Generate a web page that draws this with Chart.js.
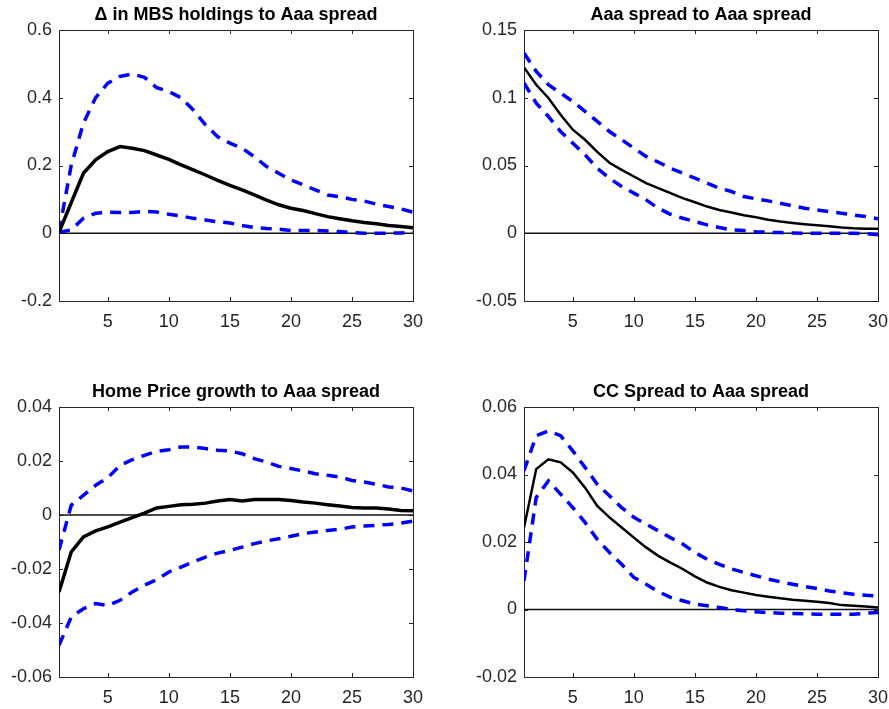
<!DOCTYPE html>
<html lang="en">
<head>
    <meta charset="UTF-8">
    <title>Impulse responses to Aaa spread</title>
    <style>
        body {
            margin: 0;
            padding: 0;
            background: #fff;
            overflow: hidden;
        }

        .panel {
            position: absolute;
        }
    </style>
</head>
<body>
    <div class="panel" id="p1"><canvas id="c1"></canvas></div>
    <div class="panel" id="p2"><canvas id="c2"></canvas></div>
    <div class="panel" id="p3"><canvas id="c3"></canvas></div>
    <div class="panel" id="p4"><canvas id="c4"></canvas></div>

    <script src="https://cdn.jsdelivr.net/npm/chart.js"></script>
    <script>
        // Horizons and x tick labels (shared)
        const horizons = [1, 2, 3, 4, 5, 6, 7, 8, 9, 10, 11, 12, 13, 14, 15, 16, 17, 18, 19, 20, 21, 22, 23, 24, 25, 26, 27, 28, 29, 30];
        const xTicks = [5, 10, 15, 20, 25, 30];

        // Panel 1: change in MBS holdings
        const mbsTitle = 'Δ in MBS holdings to Aaa spread';
        const mbsYTicks = [-0.2, 0, 0.2, 0.4, 0.6];
        const mbsMedian = [0.003, 0.09, 0.177, 0.217, 0.241, 0.256, 0.251, 0.244, 0.231, 0.218, 0.202, 0.187, 0.172, 0.156, 0.141, 0.128, 0.113, 0.098, 0.084, 0.074, 0.067, 0.058, 0.049, 0.043, 0.037, 0.032, 0.028, 0.023, 0.020, 0.016];
        const mbsUpper = [0.005, 0.20, 0.325, 0.40, 0.443, 0.463, 0.47, 0.46, 0.43, 0.418, 0.40, 0.364, 0.32, 0.285, 0.266, 0.251, 0.226, 0.197, 0.177, 0.157, 0.143, 0.128, 0.113, 0.108, 0.10, 0.095, 0.086, 0.079, 0.072, 0.062];
        const mbsLower = [0.003, 0.01, 0.044, 0.059, 0.062, 0.061, 0.061, 0.065, 0.063, 0.056, 0.051, 0.044, 0.039, 0.034, 0.030, 0.023, 0.017, 0.014, 0.012, 0.008, 0.008, 0.008, 0.007, 0.005, 0.002, 0.0, 0.0, 0.0, 0.001, 0.003];

        // Panel 2: Aaa spread
        const aaaTitle = 'Aaa spread to Aaa spread';
        const aaaYTicks = [-0.05, 0, 0.05, 0.1, 0.15];
        const aaaMedian = [0.1224, 0.1096, 0.0998, 0.0874, 0.0764, 0.069, 0.060, 0.052, 0.0468, 0.0419, 0.037, 0.0333, 0.0296, 0.0259, 0.0229, 0.0197, 0.0172, 0.0153, 0.0133, 0.0118, 0.0099, 0.0086, 0.0076, 0.0067, 0.0059, 0.0052, 0.0042, 0.0037, 0.0034, 0.0034];
        const aaaUpper = [0.133, 0.1195, 0.1096, 0.1034, 0.0973, 0.0899, 0.0825, 0.0751, 0.069, 0.0628, 0.0567, 0.0525, 0.048, 0.0443, 0.0406, 0.037, 0.0333, 0.0308, 0.0271, 0.0254, 0.0239, 0.0222, 0.0202, 0.0185, 0.0172, 0.016, 0.0148, 0.0135, 0.0123, 0.0106];
        const aaaLower = [0.111, 0.096, 0.0862, 0.0751, 0.0665, 0.0579, 0.048, 0.0406, 0.0345, 0.0296, 0.0246, 0.0185, 0.014, 0.0111, 0.0086, 0.0062, 0.0042, 0.0025, 0.002, 0.0012, 0.0007, 0.0005, 0.0002, 0.0, 0.0, 0.0, 0.0, 0.0, -0.0002, -0.0012];

        // Panel 3: home price growth
        const hpTitle = 'Home Price growth to Aaa spread';
        const hpYTicks = [-0.06, -0.04, -0.02, 0, 0.02, 0.04];
        const hpMedian = [-0.0285, -0.0137, -0.0081, -0.0059, -0.0044, -0.0026, -0.001, 0.0007, 0.0026, 0.0032, 0.0038, 0.004, 0.0044, 0.0052, 0.0057, 0.0052, 0.0057, 0.0057, 0.0057, 0.0054, 0.0048, 0.0044, 0.0038, 0.0033, 0.0028, 0.0026, 0.0026, 0.0022, 0.0017, 0.0016];
        const hpUpper = [-0.013, 0.0036, 0.0073, 0.011, 0.0138, 0.0184, 0.0205, 0.0221, 0.0236, 0.0242, 0.0252, 0.0252, 0.0246, 0.024, 0.0237, 0.0227, 0.0209, 0.0196, 0.018, 0.0172, 0.0163, 0.0153, 0.0147, 0.0141, 0.0128, 0.0122, 0.0114, 0.0104, 0.010, 0.0089];
        const hpLower = [-0.0483, -0.0378, -0.0347, -0.0328, -0.0335, -0.0316, -0.0285, -0.026, -0.024, -0.0211, -0.0193, -0.0174, -0.0156, -0.0141, -0.0131, -0.0119, -0.0106, -0.0096, -0.0088, -0.0079, -0.0069, -0.0063, -0.0057, -0.0053, -0.0044, -0.0041, -0.0038, -0.0035, -0.003, -0.0023];

        // Panel 4: CC spread
        const ccTitle = 'CC Spread to Aaa spread';
        const ccYTicks = [-0.02, 0, 0.02, 0.04, 0.06];
        const ccMedian = [0.0243, 0.0416, 0.0445, 0.0436, 0.0406, 0.0361, 0.0307, 0.0273, 0.0243, 0.0213, 0.0184, 0.0159, 0.0139, 0.012, 0.0098, 0.008, 0.0067, 0.0057, 0.005, 0.0043, 0.0038, 0.0033, 0.0029, 0.0026, 0.0023, 0.0019, 0.0013, 0.0011, 0.0009, 0.0006];
        const ccUpper = [0.0411, 0.0515, 0.0529, 0.0515, 0.047, 0.0421, 0.0371, 0.0337, 0.0302, 0.0273, 0.0253, 0.0233, 0.0213, 0.0194, 0.0169, 0.0149, 0.0134, 0.012, 0.011, 0.010, 0.009, 0.0082, 0.0075, 0.0068, 0.0062, 0.0055, 0.005, 0.0045, 0.0042, 0.004];
        const ccLower = [0.0085, 0.0332, 0.0381, 0.0342, 0.0302, 0.0258, 0.0208, 0.0169, 0.0134, 0.0095, 0.0075, 0.0053, 0.0036, 0.0026, 0.0016, 0.0011, 0.0006, 0.0, -0.0004, -0.0007, -0.0009, -0.0011, -0.0012, -0.0013, -0.0014, -0.0014, -0.0014, -0.0014, -0.0011, -0.0009];

        const axisColor = '#262626';
        const fontFamily = "'Liberation Sans', Arial, Helvetica, sans-serif";

        // Box round the plot area with short inward ticks on all four sides
        const boxPlugin = {
            id: 'matlabBox',
            beforeDatasetsDraw(chart) {
                const { ctx, chartArea: a, scales: { x, y } } = chart;
                const len = 4;
                ctx.save();
                ctx.strokeStyle = axisColor;
                ctx.lineWidth = 1;
                ctx.strokeRect(Math.round(a.left) + 0.5, Math.round(a.top) + 0.5,
                    Math.round(a.right - a.left), Math.round(a.bottom - a.top));
                ctx.beginPath();
                x.ticks.forEach(t => {
                    const px = Math.round(x.getPixelForValue(t.value)) + 0.5;
                    ctx.moveTo(px, a.bottom); ctx.lineTo(px, a.bottom - len);
                    ctx.moveTo(px, a.top); ctx.lineTo(px, a.top + len);
                });
                y.ticks.forEach(t => {
                    const py = Math.round(y.getPixelForValue(t.value)) + 0.5;
                    ctx.moveTo(a.left, py); ctx.lineTo(a.left + len, py);
                    ctx.moveTo(a.right, py); ctx.lineTo(a.right - len, py);
                });
                ctx.stroke();
                ctx.restore();
            }
        };

        function toPoints(values) {
            return values.map((v, i) => ({ x: horizons[i], y: v }));
        }

        function makePanel(canvasId, pos, title, yTicks, median, upper, lower, medianWidth) {
            const wrap = document.getElementById(canvasId).parentElement;
            wrap.style.left = pos.left + 'px';
            wrap.style.top = pos.top + 'px';
            const canvas = document.getElementById(canvasId);
            canvas.width = pos.width;
            canvas.height = pos.height;
            canvas.style.width = pos.width + 'px';
            canvas.style.height = pos.height + 'px';

            const band = {
                borderColor: '#0000ff',
                borderWidth: 3.5,
                borderDash: [11, 8],
                pointRadius: 0,
                tension: 0,
                fill: false,
                order: 1
            };

            return new Chart(canvas.getContext('2d'), {
                type: 'line',
                data: {
                    datasets: [
                        { data: toPoints(median), borderColor: '#000', borderWidth: medianWidth, pointRadius: 0, tension: 0, fill: false, order: 0 },
                        Object.assign({ data: toPoints(upper) }, band),
                        Object.assign({ data: toPoints(lower) }, band),
                        {
                            data: [{ x: horizons[0], y: 0 }, { x: horizons[horizons.length - 1], y: 0 }],
                            borderColor: '#111', borderWidth: 1.5, pointRadius: 0, order: 2
                        }
                    ]
                },
                options: {
                    responsive: false,
                    animation: false,
                    layout: { padding: { left: 0, right: pos.padRight, top: 0, bottom: 0 } },
                    plugins: {
                        legend: { display: false },
                        tooltip: { enabled: false },
                        title: {
                            display: true,
                            text: title,
                            fullSize: false,
                            color: '#000',
                            font: { family: fontFamily, size: 18, weight: 'bold', lineHeight: 1.2 },
                            padding: { top: 4.5, bottom: 3.9 }
                        }
                    },
                    scales: {
                        x: {
                            type: 'linear',
                            min: horizons[0],
                            max: horizons[horizons.length - 1],
                            afterBuildTicks: s => { s.ticks = xTicks.map(v => ({ value: v })); },
                            afterFit: s => { s.height = 40; s.paddingLeft = 0; s.paddingRight = 0; },
                            grid: { display: false, drawTicks: false },
                            border: { display: false },
                            ticks: {
                                padding: 10,
                                color: axisColor,
                                maxRotation: 0,
                                autoSkip: false,
                                font: { family: fontFamily, size: 18 },
                                callback: v => String(v)
                            }
                        },
                        y: {
                            type: 'linear',
                            min: yTicks[0],
                            max: yTicks[yTicks.length - 1],
                            afterBuildTicks: s => { s.ticks = yTicks.map(v => ({ value: v })); },
                            afterFit: s => { s.width = pos.yAxisWidth; s.paddingTop = 0; s.paddingBottom = 0; },
                            grid: { display: false, drawTicks: false },
                            border: { display: false },
                            ticks: {
                                padding: 7,
                                color: axisColor,
                                autoSkip: false,
                                font: { family: fontFamily, size: 18 },
                                callback: v => String(v)
                            }
                        }
                    }
                },
                plugins: [boxPlugin]
            });
        }

        makePanel('c1', { left: 0, top: 0, width: 445, height: 341, yAxisWidth: 59, padRight: 32 },
            mbsTitle, mbsYTicks, mbsMedian, mbsUpper, mbsLower, 3.5);
        makePanel('c2', { left: 445, top: 0, width: 444, height: 341, yAxisWidth: 79, padRight: 11 },
            aaaTitle, aaaYTicks, aaaMedian, aaaUpper, aaaLower, 2.5);
        makePanel('c3', { left: 0, top: 377, width: 445, height: 340, yAxisWidth: 59, padRight: 32 },
            hpTitle, hpYTicks, hpMedian, hpUpper, hpLower, 3.5);
        makePanel('c4', { left: 445, top: 377, width: 444, height: 340, yAxisWidth: 79, padRight: 11 },
            ccTitle, ccYTicks, ccMedian, ccUpper, ccLower, 2.5);
    </script>
</body>
</html>
